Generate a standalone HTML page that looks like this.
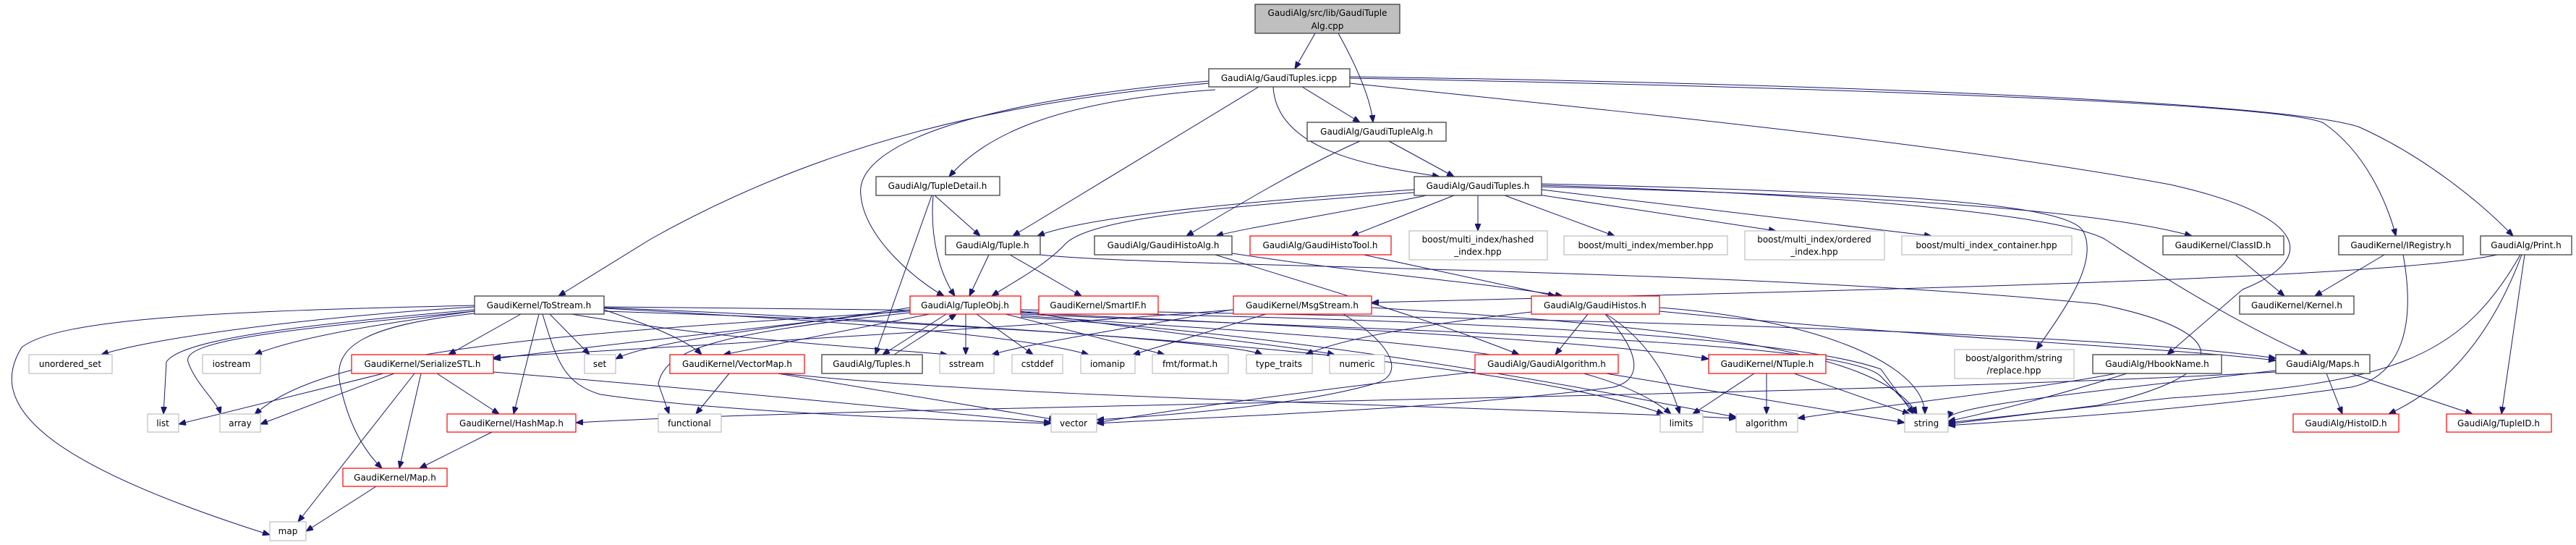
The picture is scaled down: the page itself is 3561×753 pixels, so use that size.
<!DOCTYPE html>
<html><head><meta charset="utf-8"><style>
html,body{margin:0;padding:0;background:#fff}
svg{display:block}
text{font-family:"DejaVu Sans","Liberation Sans",sans-serif;font-size:12px;fill:#000}
.b{fill:#fff;stroke:#404040;stroke-width:1.3}
.r{fill:#fff;stroke:#ff0000;stroke-width:1.2}
.g{fill:#fff;stroke:#bfbfbf;stroke-width:1.2}
.e path{fill:none;stroke:#191970;stroke-width:1}
</style></head><body>
<svg width="3561" height="753" viewBox="0 0 3561 753" xmlns="http://www.w3.org/2000/svg">
<defs><marker id="a" viewBox="0 0 10 8" refX="10" refY="4" markerWidth="10" markerHeight="8" markerUnits="userSpaceOnUse" orient="auto"><path d="M0,0 L10,4 L0,8 z" fill="#191970" stroke="#191970"/></marker></defs>
<g class="e" marker-end="url(#a)">
<path d="M1818,46 L1790,95" marker-end="url(#a)"/>
<path d="M1850,46 C1880,100 1895,140 1898,169" marker-end="url(#a)"/>
<path d="M1800,120 L1880,169" marker-end="url(#a)"/>
<path d="M1760,120 C1765,210 1900,230 1990,244" marker-end="url(#a)"/>
<path d="M1680,124 C1450,140 1360,190 1312,244" marker-end="url(#a)"/>
<path d="M1740,120 L1400,326" marker-end="url(#a)"/>
<path d="M1671,112 C1350,140 1180,200 1190,270 C1195,330 1270,390 1305,409" marker-end="url(#a)"/>
<path d="M1671,115 C1400,140 1150,190 900,330 L772,409" marker-end="url(#a)"/>
<path d="M1866,108 C2400,118 3150,140 3212,170 C3270,210 3300,280 3312,326" marker-end="url(#a)"/>
<path d="M1866,106 C2500,115 3150,140 3260,175 C3350,215 3430,280 3474,326" marker-end="url(#a)"/>
<path d="M1866,115 C2300,160 2700,200 3000,255 C3200,300 3200,360 3100,400 L2996,490" marker-end="url(#a)"/>
<path d="M1920,195 L2010,244" marker-end="url(#a)"/>
<path d="M1880,195 C1800,230 1700,290 1640,326" marker-end="url(#a)"/>
<path d="M1955,262 C1700,280 1500,300 1434,326" marker-end="url(#a)"/>
<path d="M1955,266 C1700,285 1500,300 1470,340 C1440,370 1400,390 1371,409" marker-end="url(#a)"/>
<path d="M1972,270 C1850,295 1720,315 1681,326" marker-end="url(#a)"/>
<path d="M2010,270 L1868,326" marker-end="url(#a)"/>
<path d="M2043,270 L2043,319" marker-end="url(#a)"/>
<path d="M2080,270 L2232,326" marker-end="url(#a)"/>
<path d="M2120,268 L2455,319" marker-end="url(#a)"/>
<path d="M2131,262 L2670,326" marker-end="url(#a)"/>
<path d="M2131,258 C2600,270 2900,290 3030,326" marker-end="url(#a)"/>
<path d="M2131,256 C2600,270 2850,300 2909,330 C3000,390 3100,450 3190,490" marker-end="url(#a)"/>
<path d="M2131,254 C2600,265 2860,280 2880,320 C2900,360 2860,420 2815,483" marker-end="url(#a)"/>
<path d="M1292,270 L1355,326" marker-end="url(#a)"/>
<path d="M1290,270 C1285,330 1300,380 1320,409" marker-end="url(#a)"/>
<path d="M1288,270 L1210,490" marker-end="url(#a)"/>
<path d="M1367,352 L1340,409" marker-end="url(#a)"/>
<path d="M1396,352 L1495,409" marker-end="url(#a)"/>
<path d="M1438,352 C1600,370 2400,370 2900,420 C3100,460 3080,520 2900,560 L2693,586" marker-end="url(#a)"/>
<path d="M1703,350 C1900,380 2050,390 2160,409" marker-end="url(#a)"/>
<path d="M1680,352 C1900,420 2000,450 2100,490" marker-end="url(#a)"/>
<path d="M1885,352 L2150,409" marker-end="url(#a)"/>
<path d="M2195,434 L2150,490" marker-end="url(#a)"/>
<path d="M2220,434 C2280,470 2310,530 2322,572" marker-end="url(#a)"/>
<path d="M2219,434 C2270,490 2270,525 2230,535 C2000,565 1700,575 1516,585" marker-end="url(#a)"/>
<path d="M2294,425 C2500,440 2660,500 2661,572" marker-end="url(#a)"/>
<path d="M2294,430 C2700,470 3000,480 3146,498" marker-end="url(#a)"/>
<path d="M2117,431 C1950,450 1850,470 1805,490" marker-end="url(#a)"/>
<path d="M3452,352 C3300,385 2600,400 1896,418" marker-end="url(#a)"/>
<path d="M3486,352 C3430,500 3350,550 3302,572" marker-end="url(#a)"/>
<path d="M3490,352 L3458,572" marker-end="url(#a)"/>
<path d="M3484,352 C3400,500 3300,530 3000,550 L2693,584" marker-end="url(#a)"/>
<path d="M3296,352 L3200,409" marker-end="url(#a)"/>
<path d="M3322,352 C3340,450 3320,520 3250,535 C3000,570 2800,580 2693,588" marker-end="url(#a)"/>
<path d="M3090,352 L3158,409" marker-end="url(#a)"/>
<path d="M3216,516 L3238,572" marker-end="url(#a)"/>
<path d="M3250,516 L3418,572" marker-end="url(#a)"/>
<path d="M3146,514 C2500,550 1200,560 796,584" marker-end="url(#a)"/>
<path d="M2940,516 C2850,545 2750,570 2693,582" marker-end="url(#a)"/>
<path d="M2925,516 C2800,540 2600,560 2485,578" marker-end="url(#a)"/>
<path d="M3146,512 C2900,540 2700,560 2693,578" marker-end="url(#a)"/>
<path d="M2425,516 L2340,572" marker-end="url(#a)"/>
<path d="M2442,516 L2442,572" marker-end="url(#a)"/>
<path d="M2480,516 L2640,572" marker-end="url(#a)"/>
<path d="M2039,514 C1800,540 1600,570 1516,584" marker-end="url(#a)"/>
<path d="M2220,516 L2633,584" marker-end="url(#a)"/>
<path d="M1702,428 C1550,455 1420,475 1371,490" marker-end="url(#a)"/>
<path d="M1750,434 L1566,490" marker-end="url(#a)"/>
<path d="M1857,434 C1932,480 1940,520 1900,530 C1800,560 1600,575 1516,580" marker-end="url(#a)"/>
<path d="M1896,425 C2300,450 2600,480 2650,572" marker-end="url(#a)"/>
<path d="M1705,428 C1300,460 900,480 682,494" marker-end="url(#a)"/>
<path d="M1258,425 C1100,450 900,470 851,496" marker-end="url(#a)"/>
<path d="M1258,428 C1000,460 800,480 682,496" marker-end="url(#a)"/>
<path d="M1285,434 L1000,490" marker-end="url(#a)"/>
<path d="M1308,434 L1220,490" marker-end="url(#a)"/>
<path d="M1236,490 L1322,434" marker-end="url(#a)"/>
<path d="M1335,434 L1335,490" marker-end="url(#a)"/>
<path d="M1350,434 L1428,490" marker-end="url(#a)"/>
<path d="M1390,434 L1610,490" marker-end="url(#a)"/>
<path d="M1411,430 C1600,460 1800,480 1845,490" marker-end="url(#a)"/>
<path d="M1411,432 C1800,450 2200,470 2362,496" marker-end="url(#a)"/>
<path d="M1411,434 C2000,460 2550,470 2600,520 L2650,572" marker-end="url(#a)"/>
<path d="M1411,436 C1900,470 2200,480 2310,572" marker-end="url(#a)"/>
<path d="M1411,428 C2200,440 2900,460 3146,495" marker-end="url(#a)"/>
<path d="M1258,432 C1000,460 920,480 910,530 L925,572" marker-end="url(#a)"/>
<path d="M1258,430 C800,460 450,480 352,573" marker-end="url(#a)"/>
<path d="M1411,438 C1900,470 2300,560 2400,576" marker-end="url(#a)"/>
<path d="M656,424 C400,440 200,470 140,490" marker-end="url(#a)"/>
<path d="M656,430 C500,450 400,470 352,490" marker-end="url(#a)"/>
<path d="M656,428 C400,450 250,470 230,500 L226,572" marker-end="url(#a)"/>
<path d="M656,430 C400,455 250,470 260,500 C270,530 300,555 305,572" marker-end="url(#a)"/>
<path d="M656,422 C300,430 80,440 30,480 C-20,560 60,640 373,739" marker-end="url(#a)"/>
<path d="M720,434 L620,490" marker-end="url(#a)"/>
<path d="M656,433 C500,450 460,480 470,530 C480,580 500,620 528,647" marker-end="url(#a)"/>
<path d="M745,434 L710,572" marker-end="url(#a)"/>
<path d="M760,434 L815,490" marker-end="url(#a)"/>
<path d="M790,434 C1000,470 1200,480 1310,490" marker-end="url(#a)"/>
<path d="M835,426 C1100,440 1400,460 1505,490" marker-end="url(#a)"/>
<path d="M835,425 C1200,440 1700,470 1745,490" marker-end="url(#a)"/>
<path d="M835,428 C900,450 950,470 970,490" marker-end="url(#a)"/>
<path d="M750,434 C770,500 780,530 830,545 C1000,570 1300,580 1453,585" marker-end="url(#a)"/>
<path d="M835,424 C1500,430 2400,440 2600,510 L2645,572" marker-end="url(#a)"/>
<path d="M835,430 C1500,450 2100,500 2300,572" marker-end="url(#a)"/>
<path d="M530,516 L247,586" marker-end="url(#a)"/>
<path d="M545,516 L360,586" marker-end="url(#a)"/>
<path d="M573,516 L412,721" marker-end="url(#a)"/>
<path d="M582,516 L552,647" marker-end="url(#a)"/>
<path d="M604,516 L690,572" marker-end="url(#a)"/>
<path d="M682,514 C1000,540 1300,570 1453,584" marker-end="url(#a)"/>
<path d="M680,597 L580,647" marker-end="url(#a)"/>
<path d="M520,672 L423,734" marker-end="url(#a)"/>
<path d="M1008,516 L962,572" marker-end="url(#a)"/>
<path d="M1075,516 L1460,580" marker-end="url(#a)"/>
<path d="M1080,516 C1400,550 2000,560 2400,578" marker-end="url(#a)"/>
</g>
<g>
<rect x="1735" y="6" width="200" height="40" fill="#bfbfbf" stroke="#404040" stroke-width="1.3"/>
<text x="1835" y="22" text-anchor="middle">GaudiAlg/src/lib/GaudiTuple</text>
<text x="1835" y="40" text-anchor="middle">Alg.cpp</text>

<rect class="b" x="1671" y="95" width="195" height="25"/><text x="1768" y="112" text-anchor="middle">GaudiAlg/GaudiTuples.icpp</text>
<rect class="b" x="1807" y="169" width="192" height="26"/><text x="1903" y="186" text-anchor="middle">GaudiAlg/GaudiTupleAlg.h</text>
<rect class="b" x="1211" y="244" width="171" height="26"/><text x="1296" y="261" text-anchor="middle">GaudiAlg/TupleDetail.h</text>
<rect class="b" x="1955" y="244" width="176" height="26"/><text x="2043" y="261" text-anchor="middle">GaudiAlg/GaudiTuples.h</text>

<rect class="b" x="1307" y="326" width="131" height="26"/><text x="1372" y="343" text-anchor="middle">GaudiAlg/Tuple.h</text>
<rect class="b" x="1513" y="326" width="190" height="26"/><text x="1608" y="343" text-anchor="middle">GaudiAlg/GaudiHistoAlg.h</text>
<rect class="r" x="1728" y="326" width="195" height="26"/><text x="1825" y="343" text-anchor="middle">GaudiAlg/GaudiHistoTool.h</text>
<rect class="g" x="1948" y="319" width="191" height="40"/><text x="2043" y="335" text-anchor="middle">boost/multi_index/hashed</text><text x="2043" y="352" text-anchor="middle">_index.hpp</text>
<rect class="g" x="2162" y="326" width="226" height="26"/><text x="2275" y="343" text-anchor="middle">boost/multi_index/member.hpp</text>
<rect class="g" x="2412" y="319" width="193" height="40"/><text x="2508" y="335" text-anchor="middle">boost/multi_index/ordered</text><text x="2508" y="352" text-anchor="middle">_index.hpp</text>
<rect class="g" x="2629" y="326" width="235" height="26"/><text x="2746" y="343" text-anchor="middle">boost/multi_index_container.hpp</text>
<rect class="b" x="2990" y="326" width="167" height="26"/><text x="3073" y="343" text-anchor="middle">GaudiKernel/ClassID.h</text>
<rect class="b" x="3233" y="326" width="172" height="26"/><text x="3319" y="343" text-anchor="middle">GaudiKernel/IRegistry.h</text>
<rect class="b" x="3429" y="326" width="126" height="26"/><text x="3492" y="343" text-anchor="middle">GaudiAlg/Print.h</text>

<rect class="b" x="656" y="409" width="179" height="25"/><text x="745" y="426" text-anchor="middle">GaudiKernel/ToStream.h</text>
<rect class="r" x="1258" y="409" width="153" height="25"/><text x="1334" y="426" text-anchor="middle">GaudiAlg/TupleObj.h</text>
<rect class="r" x="1436" y="409" width="165" height="25"/><text x="1518" y="426" text-anchor="middle">GaudiKernel/SmartIF.h</text>
<rect class="r" x="1705" y="409" width="191" height="25"/><text x="1800" y="426" text-anchor="middle">GaudiKernel/MsgStream.h</text>
<rect class="r" x="2117" y="409" width="177" height="25"/><text x="2205" y="426" text-anchor="middle">GaudiAlg/GaudiHistos.h</text>
<rect class="b" x="3096" y="409" width="158" height="25"/><text x="3175" y="426" text-anchor="middle">GaudiKernel/Kernel.h</text>

<rect class="g" x="40" y="490" width="115" height="26"/><text x="97" y="507" text-anchor="middle">unordered_set</text>
<rect class="g" x="280" y="490" width="80" height="26"/><text x="320" y="507" text-anchor="middle">iostream</text>
<rect class="r" x="486" y="490" width="196" height="26"/><text x="584" y="507" text-anchor="middle">GaudiKernel/SerializeSTL.h</text>
<rect class="g" x="808" y="490" width="43" height="26"/><text x="829" y="507" text-anchor="middle">set</text>
<rect class="r" x="926" y="490" width="186" height="26"/><text x="1019" y="507" text-anchor="middle">GaudiKernel/VectorMap.h</text>
<rect class="b" x="1136" y="490" width="139" height="26"/><text x="1205" y="507" text-anchor="middle">GaudiAlg/Tuples.h</text>
<rect class="g" x="1299" y="490" width="75" height="26"/><text x="1336" y="507" text-anchor="middle">sstream</text>
<rect class="g" x="1399" y="490" width="70" height="26"/><text x="1434" y="507" text-anchor="middle">cstddef</text>
<rect class="g" x="1494" y="490" width="75" height="26"/><text x="1531" y="507" text-anchor="middle">iomanip</text>
<rect class="g" x="1593" y="490" width="105" height="26"/><text x="1645" y="507" text-anchor="middle">fmt/format.h</text>
<rect class="g" x="1723" y="490" width="91" height="26"/><text x="1768" y="507" text-anchor="middle">type_traits</text>
<rect class="g" x="1838" y="490" width="76" height="26"/><text x="1876" y="507" text-anchor="middle">numeric</text>
<rect class="r" x="2039" y="490" width="198" height="26"/><text x="2138" y="507" text-anchor="middle">GaudiAlg/GaudiAlgorithm.h</text>
<rect class="r" x="2362" y="490" width="162" height="26"/><text x="2443" y="507" text-anchor="middle">GaudiKernel/NTuple.h</text>
<rect class="g" x="2702" y="483" width="165" height="40"/><text x="2784" y="499" text-anchor="middle">boost/algorithm/string</text><text x="2784" y="516" text-anchor="middle">/replace.hpp</text>
<rect class="b" x="2893" y="490" width="178" height="26"/><text x="2982" y="507" text-anchor="middle">GaudiAlg/HbookName.h</text>
<rect class="b" x="3146" y="490" width="130" height="26"/><text x="3211" y="507" text-anchor="middle">GaudiAlg/Maps.h</text>

<rect class="g" x="204" y="572" width="43" height="25"/><text x="225" y="589" text-anchor="middle">list</text>
<rect class="g" x="304" y="572" width="56" height="25"/><text x="332" y="589" text-anchor="middle">array</text>
<rect class="r" x="618" y="572" width="178" height="25"/><text x="707" y="589" text-anchor="middle">GaudiKernel/HashMap.h</text>
<rect class="g" x="910" y="572" width="87" height="25"/><text x="953" y="589" text-anchor="middle">functional</text>
<rect class="g" x="1453" y="572" width="63" height="25"/><text x="1484" y="589" text-anchor="middle">vector</text>
<rect class="g" x="2295" y="572" width="59" height="25"/><text x="2324" y="589" text-anchor="middle">limits</text>
<rect class="g" x="2400" y="572" width="85" height="25"/><text x="2442" y="589" text-anchor="middle">algorithm</text>
<rect class="g" x="2633" y="572" width="60" height="25"/><text x="2663" y="589" text-anchor="middle">string</text>
<rect class="r" x="3170" y="572" width="146" height="25"/><text x="3243" y="589" text-anchor="middle">GaudiAlg/HistoID.h</text>
<rect class="r" x="3382" y="572" width="145" height="25"/><text x="3454" y="589" text-anchor="middle">GaudiAlg/TupleID.h</text>

<rect class="r" x="474" y="647" width="144" height="25"/><text x="546" y="664" text-anchor="middle">GaudiKernel/Map.h</text>
<rect class="g" x="373" y="721" width="50" height="26"/><text x="398" y="738" text-anchor="middle">map</text>
</g>
</svg>
</body></html>
